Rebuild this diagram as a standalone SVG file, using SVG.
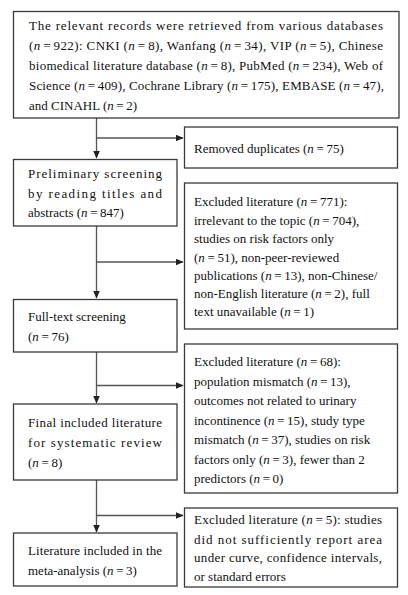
<svg xmlns="http://www.w3.org/2000/svg" width="408" height="595" viewBox="0 0 408 595">
<style>
.box{fill:#fff;stroke:#3a3a3a;stroke-width:1.3}
.t{font-family:"Liberation Serif","Times New Roman",serif;font-size:13px;fill:#111}
.i{font-style:italic;letter-spacing:2.6px}
.e{letter-spacing:2.6px}
.c{fill:none;stroke:#555;stroke-width:1.3}
</style>
<defs>
<marker id="ah" markerWidth="8" markerHeight="7" refX="7.5" refY="3.5" orient="auto" markerUnits="userSpaceOnUse">
<path d="M0,0 L8,3.5 L0,7 Z" fill="#222"/>
</marker>
</defs>
<rect width="408" height="595" fill="#fff"/>
<g id="connectors">
<path class="c" d="M96.5,118 V158" marker-end="url(#ah)"/>
<path class="c" d="M96.5,138 H183" marker-end="url(#ah)"/>
<path class="c" d="M96.5,226 V298" marker-end="url(#ah)"/>
<path class="c" d="M96.5,262 H183" marker-end="url(#ah)"/>
<path class="c" d="M96.5,352 V403" marker-end="url(#ah)"/>
<path class="c" d="M96.5,385.5 H183" marker-end="url(#ah)"/>
<path class="c" d="M96.5,480 V532" marker-end="url(#ah)"/>
<path class="c" d="M96.5,515.5 H183" marker-end="url(#ah)"/>
</g>
<g id="records">
<rect class="box" x="13.5" y="11.5" width="385.5" height="106.5"/>
<text class="t" x="29" y="30" textLength="354" lengthAdjust="spacing">The relevant records were retrieved from various databases</text>
<text class="t" x="29" y="50" textLength="354" lengthAdjust="spacing">(<tspan class="i">n</tspan><tspan class="e">=</tspan>922): CNKI (<tspan class="i">n</tspan><tspan class="e">=</tspan>8), Wanfang (<tspan class="i">n</tspan><tspan class="e">=</tspan>34), VIP (<tspan class="i">n</tspan><tspan class="e">=</tspan>5), Chinese</text>
<text class="t" x="29" y="70" textLength="354" lengthAdjust="spacing">biomedical literature database (<tspan class="i">n</tspan><tspan class="e">=</tspan>8), PubMed (<tspan class="i">n</tspan><tspan class="e">=</tspan>234), Web of</text>
<text class="t" x="29" y="90" textLength="355" lengthAdjust="spacing">Science (<tspan class="i">n</tspan><tspan class="e">=</tspan>409), Cochrane Library (<tspan class="i">n</tspan><tspan class="e">=</tspan>175), EMBASE (<tspan class="i">n</tspan><tspan class="e">=</tspan>47),</text>
<text class="t" x="29" y="110">and CINAHL (<tspan class="i">n</tspan><tspan class="e">=</tspan>2)</text>
</g>
<g id="duplicates">
<rect class="box" x="184.5" y="127" width="213" height="41"/>
<text class="t" x="194" y="153">Removed duplicates (<tspan class="i">n</tspan><tspan class="e">=</tspan>75)</text>
</g>
<g id="preliminary">
<rect class="box" x="13.5" y="159.5" width="163.5" height="66.5"/>
<text class="t" x="28" y="178" textLength="134" lengthAdjust="spacing">Preliminary screening</text>
<text class="t" x="28" y="198" textLength="134" lengthAdjust="spacing">by reading titles and</text>
<text class="t" x="28" y="217">abstracts (<tspan class="i">n</tspan><tspan class="e">=</tspan>847)</text>
</g>
<g id="excluded771">
<rect class="box" x="184.5" y="183" width="213" height="146"/>
<text class="t" x="194" y="206">Excluded literature (<tspan class="i">n</tspan><tspan class="e">=</tspan>771):</text>
<text class="t" x="194" y="224.5">irrelevant to the topic (<tspan class="i">n</tspan><tspan class="e">=</tspan>704),</text>
<text class="t" x="194" y="243">studies on risk factors only</text>
<text class="t" x="194" y="261.5">(<tspan class="i">n</tspan><tspan class="e">=</tspan>51), non-peer-reviewed</text>
<text class="t" x="194" y="280">publications (<tspan class="i">n</tspan><tspan class="e">=</tspan>13), non-Chinese/</text>
<text class="t" x="194" y="298">non-English literature (<tspan class="i">n</tspan><tspan class="e">=</tspan>2), full</text>
<text class="t" x="194" y="316">text unavailable (<tspan class="i">n</tspan><tspan class="e">=</tspan>1)</text>
</g>
<g id="fulltext">
<rect class="box" x="13.5" y="299.5" width="163.5" height="52.5"/>
<text class="t" x="28" y="321">Full-text screening</text>
<text class="t" x="28" y="341">(<tspan class="i">n</tspan><tspan class="e">=</tspan>76)</text>
</g>
<g id="excluded68">
<rect class="box" x="184.5" y="344" width="213" height="149"/>
<text class="t" x="194" y="366">Excluded literature (<tspan class="i">n</tspan><tspan class="e">=</tspan>68):</text>
<text class="t" x="194" y="385.5">population mismatch (<tspan class="i">n</tspan><tspan class="e">=</tspan>13),</text>
<text class="t" x="194" y="405">outcomes not related to urinary</text>
<text class="t" x="194" y="424.5">incontinence (<tspan class="i">n</tspan><tspan class="e">=</tspan>15), study type</text>
<text class="t" x="194" y="444">mismatch (<tspan class="i">n</tspan><tspan class="e">=</tspan>37), studies on risk</text>
<text class="t" x="194" y="463.5">factors only (<tspan class="i">n</tspan><tspan class="e">=</tspan>3), fewer than 2</text>
<text class="t" x="194" y="483">predictors (<tspan class="i">n</tspan><tspan class="e">=</tspan>0)</text>
</g>
<g id="final">
<rect class="box" x="13.5" y="404" width="163.5" height="76"/>
<text class="t" x="28" y="427" textLength="134" lengthAdjust="spacing">Final included literature</text>
<text class="t" x="28" y="447" textLength="134" lengthAdjust="spacing">for systematic review</text>
<text class="t" x="28" y="467">(<tspan class="i">n</tspan><tspan class="e">=</tspan>8)</text>
</g>
<g id="excluded5">
<rect class="box" x="184.5" y="508" width="213" height="79"/>
<text class="t" x="194" y="524" textLength="188" lengthAdjust="spacing">Excluded literature (<tspan class="i">n</tspan><tspan class="e">=</tspan>5): studies</text>
<text class="t" x="194" y="544" textLength="188" lengthAdjust="spacing">did not sufficiently report area</text>
<text class="t" x="194" y="562" textLength="188" lengthAdjust="spacing">under curve, confidence intervals,</text>
<text class="t" x="194" y="581">or standard errors</text>
</g>
<g id="meta">
<rect class="box" x="13.5" y="533" width="163.5" height="53"/>
<text class="t" x="28" y="555" textLength="134" lengthAdjust="spacing">Literature included in the</text>
<text class="t" x="28" y="575">meta-analysis (<tspan class="i">n</tspan><tspan class="e">=</tspan>3)</text>
</g>
</svg>
